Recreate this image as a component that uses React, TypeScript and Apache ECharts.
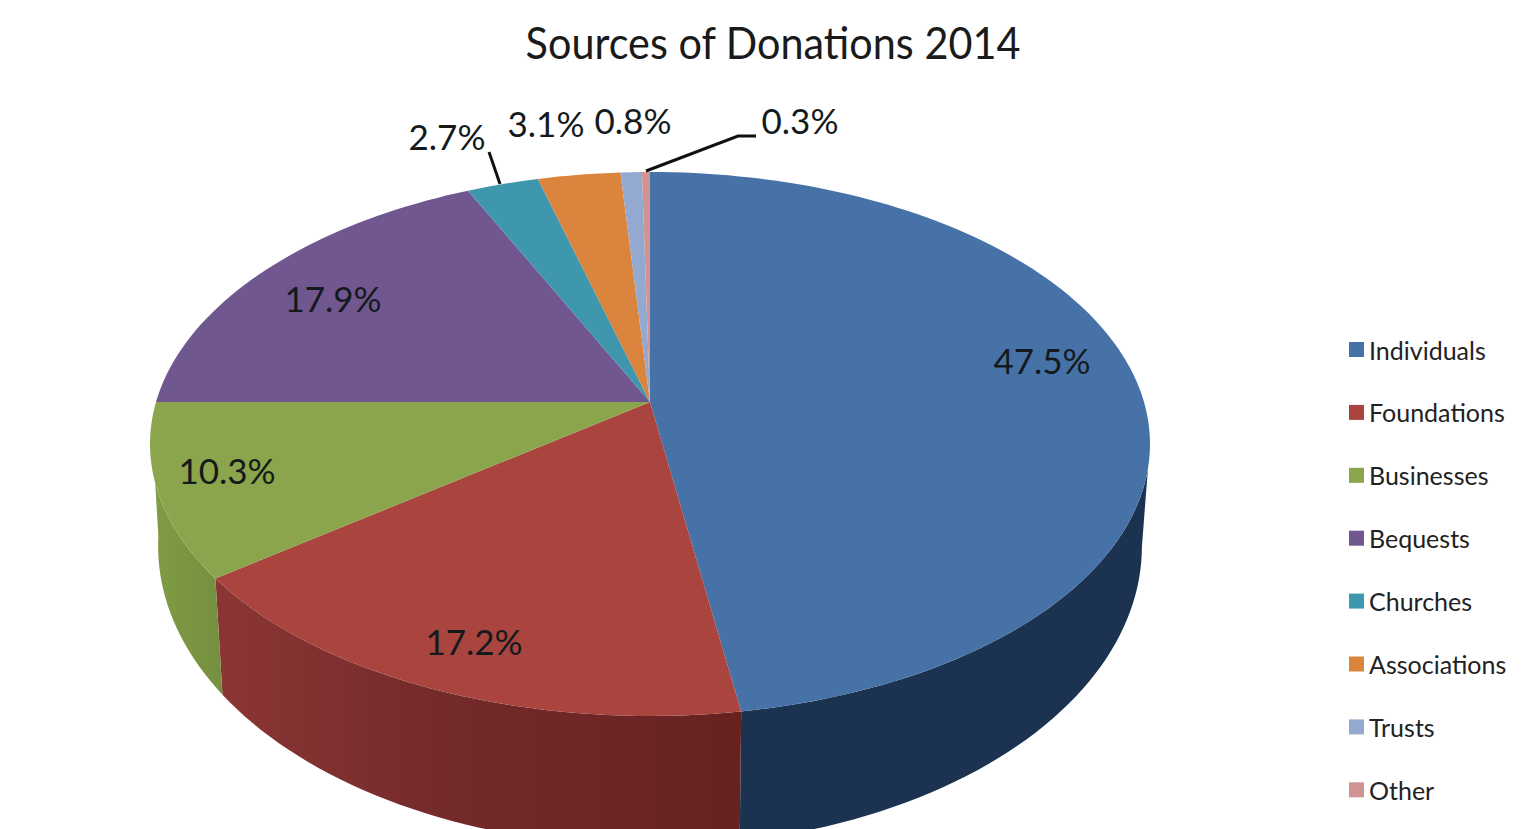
import React, { useEffect, useRef } from "react";
import * as echarts from "echarts";

const titleText = "Sources of Donations 2014";
const categories = ["Individuals", "Foundations", "Businesses", "Bequests", "Churches", "Associations", "Trusts", "Other"];
const shares = [47.5, 17.2, 10.3, 17.9, 2.7, 3.1, 0.8, 0.3];

const topColors = ["#4672A8", "#A9443F", "#8AA54B", "#71578F", "#3F97AE", "#DB843D", "#93A9CF", "#D19392"];
const labelCentres = [[1042, 360], [474, 641], [227, 470], [333, 298], [447, 136], [546, 123], [633, 120], [800, 120]];

// Projective view of the disc, top face and bottom face
const CX = 650;
const K = 0.1544;
const TOP = { y: 402, R: 494, S: 265.5 };
const BOTTOM = { y: 500, R: 486, S: 292.8 };
const WALL_START = { top: 104, bottom: 99 };
const WALL_END = { top: 253, bottom: 263 };

// The rounded labels add up to 99.8; in the picture the remainder sits in the Bequests slice.
const total = shares.reduce((s, v) => s + v, 0);
const remainderSlice = categories.indexOf("Bequests");
const drawnShare = (i: number, v: number) => v + (i === remainderSlice ? 100 - total : 0);

function project(face: { y: number; R: number; S: number }, deg: number): number[] {
  const a = (deg * Math.PI) / 180;
  const u = Math.sin(a);
  const v = -Math.cos(a);
  const w = 1 - K * v;
  return [CX + (face.R * u) / w, face.y + (face.S * v) / w];
}

function arc(face: { y: number; R: number; S: number }, from: number, to: number): number[][] {
  const n = Math.max(2, Math.ceil(Math.abs(to - from) / 1.5));
  const pts: number[][] = [];
  for (let i = 0; i <= n; i++) pts.push(project(face, from + ((to - from) * i) / n));
  return pts;
}

function wallFill(index: number): any {
  const stops: any = {
    0: [[0, "#1B3350"], [1, "#1B3350"]],
    1: [[0, "#8B3634"], [0.45, "#74292A"], [1, "#662220"]],
    2: [[0, "#7F9B44"], [1, "#749040"]],
  };
  return new echarts.graphic.LinearGradient(0, 0, 1, 0,
    (stops[index] || [[0, "#000"], [1, "#000"]]).map(([offset, color]: any[]) => ({ offset, color })));
}

function makeRenderItem(index: number) {
  return (_params: any, api: any) => {
    const before = shares.slice(0, index).reduce((s, v, i) => s + drawnShare(i, v), 0);
    const value = api.value(0);
    const a0 = (before / 100) * 360;
    const a1 = ((before + drawnShare(index, value)) / 100) * 360;
    const children: any[] = [];

    const topLo = Math.max(a0, WALL_START.top);
    const topHi = Math.min(a1, WALL_END.top);
    const botLo = Math.max(a0, WALL_START.bottom);
    const botHi = Math.min(a1, WALL_END.bottom);
    if (topHi > topLo && botHi > botLo) {
      children.push({
        type: "polygon",
        shape: { points: arc(TOP, topLo, topHi).concat(arc(BOTTOM, botHi, botLo)) },
        style: { fill: wallFill(index) },
        z2: 1,
      });
    }

    children.push({
      type: "polygon",
      shape: { points: [[CX, TOP.y]].concat(arc(TOP, a0, a1)) },
      style: { fill: topColors[index] },
      z2: 2,
    });

    children.push({
      type: "text",
      x: labelCentres[index][0],
      y: labelCentres[index][1],
      style: {
        text: value.toFixed(1) + "%",
        fontFamily: "Lato",
        fontSize: 35,
        fill: "#141a1c",
        align: "center",
        verticalAlign: "middle",
      },
      z2: 5,
    });
    return { type: "group", children };
  };
}

export default function App() {
  const ref = useRef<HTMLDivElement>(null);
  useEffect(() => {
    const chart = echarts.init(ref.current!, null, { renderer: "svg" });
    chart.setOption({
      animation: false,
      backgroundColor: "#ffffff",
      legend: {
        orient: "vertical",
        left: 1344,
        top: 332,
        icon: "rect",
        itemWidth: 15,
        itemHeight: 15,
        itemGap: 37.9,
        data: categories,
        selectedMode: false,
        textStyle: { fontFamily: "Lato", fontSize: 25, color: "#222222" },
      },
      graphic: [
        {
          type: "text",
          x: 773,
          y: 41,
          scaleX: 0.92,
          style: {
            text: titleText,
            fontFamily: "Lato",
            fontSize: 45,
            fill: "#1a1a1a",
            align: "center",
            verticalAlign: "middle",
          },
          z: 10,
        },
        { type: "polyline", shape: { points: [[489, 152], [500, 184]] }, style: { stroke: "#111", lineWidth: 3, fill: "none" }, z: 10 },
        { type: "polyline", shape: { points: [[646, 171], [738, 136], [756, 136]] }, style: { stroke: "#111", lineWidth: 3, fill: "none" }, z: 10 },
      ],
      series: categories.map((name, i) => ({
        type: "custom",
        name,
        coordinateSystem: "none",
        itemStyle: { color: topColors[i] },
        renderItem: makeRenderItem(i),
        data: [[shares[i]]],
        silent: true,
      })),
    });
    return () => chart.dispose();
  }, []);
  return <div ref={ref} style={{ position: "fixed", left: 0, top: 0, width: 1532, height: 829 }} />;
}
